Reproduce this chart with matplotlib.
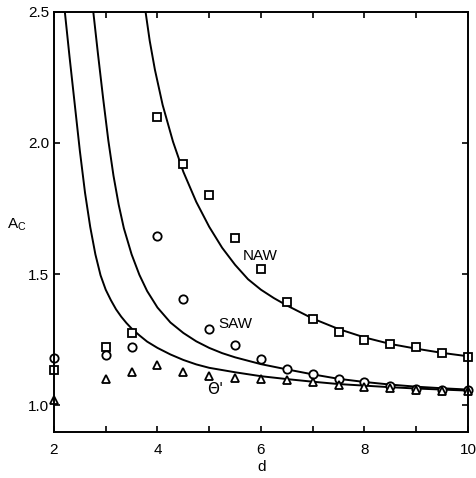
import numpy as np
import matplotlib
matplotlib.use('Agg')
import matplotlib.pyplot as plt

plt.rcParams['font.family'] = ['Liberation Sans', 'DejaVu Sans']

# measured points (d, A_c)
d_pts = [2, 3, 3.5, 4, 4.5, 5, 5.5, 6, 6.5, 7, 7.5, 8, 8.5, 9, 9.5, 10]
naw_pts = [1.134, 1.22, 1.275, 2.10, 1.92, 1.80, 1.636, 1.52, 1.395, 1.328,
           1.28, 1.25, 1.233, 1.22, 1.197, 1.184]
saw_pts = [1.18, 1.19, 1.22, 1.646, 1.405, 1.29, 1.23, 1.176, 1.136, 1.117,
           1.098, 1.087, 1.074, 1.062, 1.058, 1.056]
theta_pts = [1.02, 1.10, 1.125, 1.153, 1.125, 1.112, 1.105, 1.098, 1.095, 1.086,
             1.078, 1.07, 1.064, 1.058, 1.055, 1.053]

# theory curves
d_theta = [2.21, 2.3, 2.4, 2.5, 2.6, 2.7, 2.8, 2.9, 3.0, 3.1, 3.2, 3.3, 3.4, 3.5,
           3.65, 3.8, 4.0, 4.25, 4.5, 4.75, 5.0, 5.5, 6.0, 6.5, 7.0, 7.5, 8.0,
           8.5, 9.0, 9.5, 10]
A_theta = [2.5, 2.33, 2.15, 1.97, 1.81, 1.68, 1.575, 1.495, 1.44, 1.40, 1.365,
           1.337, 1.313, 1.292, 1.266, 1.242, 1.218, 1.193, 1.172, 1.155, 1.142,
           1.125, 1.11, 1.099, 1.089, 1.08, 1.074, 1.068, 1.063, 1.059, 1.055]

d_saw = [2.76, 2.85, 2.95, 3.05, 3.15, 3.25, 3.35, 3.5, 3.65, 3.8, 4.0, 4.25, 4.5,
         4.75, 5.0, 5.25, 5.5, 6.0, 6.5, 7.0, 7.5, 8.0, 8.5, 9.0, 9.5, 10]
A_saw = [2.5, 2.34, 2.17, 2.01, 1.875, 1.765, 1.675, 1.575, 1.497, 1.435, 1.372,
         1.315, 1.275, 1.243, 1.218, 1.198, 1.182, 1.156, 1.136, 1.117, 1.10,
         1.088, 1.078, 1.07, 1.064, 1.059]

d_naw = [3.77, 3.85, 3.95, 4.1, 4.3, 4.5, 4.75, 5.0, 5.25, 5.5, 5.75, 6.0, 6.25,
         6.5, 7.0, 7.5, 8.0, 8.5, 9.0, 9.5, 10]
A_naw = [2.5, 2.39, 2.28, 2.145, 2.005, 1.89, 1.775, 1.68, 1.60, 1.535, 1.48,
         1.44, 1.408, 1.38, 1.33, 1.29, 1.258, 1.233, 1.215, 1.199, 1.186]

fig = plt.figure(figsize=(4.76, 4.78), dpi=100)
ax = fig.add_axes([0.1134, 0.0962, 0.8697, 0.8788])

for xs, ys in [(d_theta, A_theta), (d_saw, A_saw), (d_naw, A_naw)]:
    ax.plot(xs, ys, color='black', lw=1.4, solid_joinstyle='round')

ax.plot(d_pts, naw_pts, 's', mfc='white', mec='black', ms=6, mew=1.3, clip_on=False)
ax.plot(d_pts, saw_pts, 'o', mfc='white', mec='black', ms=6, mew=1.3, clip_on=False)
ax.plot(d_pts, theta_pts, '^', mfc='white', mec='black', ms=6, mew=1.3, clip_on=False)

ax.text(5.65, 1.57, 'NAW', fontsize=11, va='center', ha='left')
ax.text(5.17, 1.31, 'SAW', fontsize=11, va='center', ha='left')
ax.text(4.95, 1.061, "Θ'", fontsize=11, va='center', ha='left',
        family=['DejaVu Sans'])

ax.set_xlim(2, 10)
ax.set_ylim(0.897, 2.5)
ax.set_xticks([2, 4, 6, 8, 10])
ax.set_xticks([3, 5, 7, 9], minor=True)
ax.set_yticks([1.0, 1.5, 2.0, 2.5])
ax.set_yticklabels(['1.0', '1.5', '2.0', '2.5'])
ax.tick_params(which='both', direction='in', top=True, right=True,
               length=4, width=1.2, labelsize=11)
ax.tick_params(axis='x', pad=8)
for s in ax.spines.values():
    s.set_linewidth(1.4)

fig.text(0.015, 0.531, 'A$_\\mathregular{C}$', fontsize=11, ha='left', va='center')
fig.text(0.55, 0.023, 'd', fontsize=11, ha='center', va='center')

fig.savefig('out.png', dpi=100)
